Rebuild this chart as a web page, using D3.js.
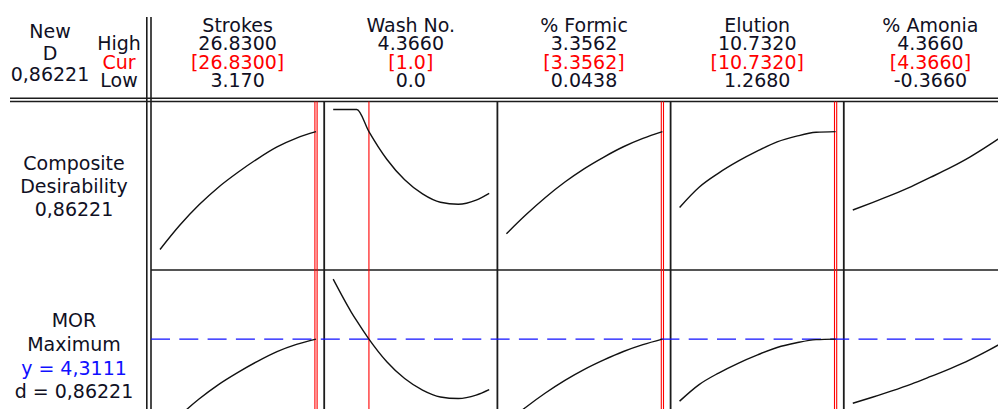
<!DOCTYPE html>
<html>
<head>
<meta charset="utf-8">
<script src="https://cdn.jsdelivr.net/npm/d3@7"></script>
<style>
  html, body { margin: 0; padding: 0; background: #fff; overflow: hidden; }
  svg { display: block; }
  text { font-family: "DejaVu Sans", Verdana, sans-serif; font-size: 19px; fill: #101024; }
</style>
</head>
<body>
<svg id="chart" width="998" height="409"></svg>
<script>
// ---- Factors and their settings ----
const factors    = ["Strokes", "Wash No.", "% Formic", "Elution", "% Amonia"];
const highLabels = ["26.8300", "4.3660", "3.3562", "10.7320", "4.3660"];
const curLabels  = ["[26.8300]", "[1.0]", "[3.3562]", "[10.7320]", "[4.3660]"];
const lowLabels  = ["3.170", "0.0", "0.0438", "1.2680", "-0.3660"];
const lows     = [3.17, 0, 0.0438, 1.268, -0.366];
const highs    = [26.83, 4.366, 3.3562, 10.732, 4.366];
const currents = [26.83, 1.0, 3.3562, 10.732, 4.366];

// ---- Predicted MOR along each factor (others held at current settings) ----
const strokesX   = [3.17, 6.13, 9.09, 12.04, 15.00, 17.96, 20.92, 23.87, 26.83];
const strokesMor = [0.64, 1.385, 2.03, 2.58, 3.045, 3.465, 3.835, 4.11, 4.3111];
const washX      = [0, 0.5, 0.66, 1.0, 1.5, 2.0, 2.5, 3.0, 3.5, 4.0, 4.366];
const washMor    = [6.59, 5.35, 5.0, 4.3111, 3.45, 2.81, 2.37, 2.11, 2.05, 2.18, 2.39];
const formicX    = [0.0438, 0.4579, 0.8719, 1.2860, 1.7000, 2.1141, 2.5281, 2.9422, 3.3562];
const formicMor  = [1.13, 1.72, 2.26, 2.74, 3.16, 3.52, 3.84, 4.10, 4.3111];
const elutionX   = [1.268, 2.451, 3.634, 4.817, 6.000, 7.183, 8.366, 9.549, 10.732];
const elutionMor = [1.95, 2.58, 3.02, 3.39, 3.71, 3.99, 4.17, 4.29, 4.3111];
const amoniaX    = [-0.366, 0.226, 0.817, 1.409, 2.000, 2.592, 3.183, 3.775, 4.366];
const amoniaMor  = [1.87, 2.10, 2.34, 2.60, 2.89, 3.19, 3.52, 3.90, 4.3111];

// ---- Response goal and optimum ----
const responseName = "MOR";
const goalName = "Maximum";
const morLower = 0, morTarget = 5;
const optimumY = 4.3111;
const compositeD = 0.86221;

const curveX   = [strokesX, washX, formicX, elutionX, amoniaX];
const curveMor = [strokesMor, washMor, formicMor, elutionMor, amoniaMor];

// ---- Layout ----
const W = 998, H = 409;
const colLeft = 151, panelW = 173.2, padL = 9, padR = 8.2;
const row1Top = 101.5, rowSplit = 270, row2Bottom = 439;
const ink = "#1c1c1c", red = "#ff0000", blue = "#1010ff";

const svg = d3.select("#chart");
const comma = v => String(v).replace(".", ",");
const desirability = m => Math.max(0, Math.min(1, (m - morLower) / (morTarget - morLower)));

// y scales: composite desirability (top row) and MOR (bottom row)
const yD = d3.scaleLinear().domain([0, 1.05]).range([rowSplit, row1Top]);
const yM = d3.scaleLinear().domain([0.51, 6.94]).range([row2Bottom, rowSplit]);

const panelLeft = i => colLeft + i * panelW;
const xScales = factors.map((f, i) =>
  d3.scaleLinear().domain([lows[i], highs[i]])
    .range([panelLeft(i) + padL, panelLeft(i + 1) - padR]));

// ---- Frame lines ----
const g = svg.append("g").attr("fill", "none");
const hline = (y, x1, x2, w = 1.6) => g.append("line").attr("x1", x1).attr("x2", x2)
  .attr("y1", y).attr("y2", y).attr("stroke", ink).attr("stroke-width", w);
const vline = (x, y1, y2, w = 1.6) => g.append("line").attr("x1", x).attr("x2", x)
  .attr("y1", y1).attr("y2", y2).attr("stroke", ink).attr("stroke-width", w);

hline(98.3, 10, W);
hline(row1Top, 10, W);
vline(146.8, 17, H);
vline(colLeft, 17, H);
factors.forEach((f, i) => vline(panelLeft(i + 1), row1Top, H, 1.8));
hline(rowSplit, colLeft, W, 1.6);

// ---- Current-setting lines ----
factors.forEach((f, i) => {
  const x = xScales[i](currents[i]);
  const atBound = currents[i] === highs[i] || currents[i] === lows[i];
  const xs = atBound ? [x - 1.1, x + 1.1] : [x];
  xs.forEach(xx => g.append("line").attr("x1", xx).attr("x2", xx)
    .attr("y1", row1Top).attr("y2", H).attr("stroke", red).attr("stroke-width", 1.1));
});

// ---- Optimum response reference line ----
g.append("line").attr("x1", colLeft).attr("x2", W)
  .attr("y1", yM(optimumY)).attr("y2", yM(optimumY))
  .attr("stroke", blue).attr("stroke-width", 1.4)
  .attr("stroke-dasharray", "19,9.3");

// ---- Curves ----
factors.forEach((f, i) => {
  const pts = curveX[i].map((x, k) => ({ x, m: curveMor[i][k] }));
  const dLine = d3.line().x(p => xScales[i](p.x)).y(p => yD(desirability(p.m)))
    .curve(d3.curveMonotoneX);
  const mLine = d3.line().x(p => xScales[i](p.x)).y(p => yM(p.m))
    .curve(d3.curveMonotoneX);
  g.append("path").attr("d", dLine(pts)).attr("stroke", "#111").attr("stroke-width", 1.4);
  g.append("path").attr("d", mLine(pts)).attr("stroke", "#111").attr("stroke-width", 1.4);
});

// ---- Header text ----
const t = svg.append("g").attr("text-anchor", "middle");
const label = (x, y, s, color) => t.append("text").attr("x", x).attr("y", y)
  .style("fill", color || null).text(s);

factors.forEach((f, i) => {
  const cx = (panelLeft(i) + panelLeft(i + 1)) / 2;
  label(cx, 32, f);
  label(cx, 50, highLabels[i]);
  label(cx, 68.5, curLabels[i], red);
  label(cx, 87.3, lowLabels[i]);
});

label(50, 38, "New");
label(50, 59.5, "D");
label(50, 80.5, comma(compositeD));
label(119, 50, "High");
label(119, 68.5, "Cur", red);
label(119, 87.3, "Low");

// ---- Row labels ----
label(74, 169.5, "Composite");
label(74, 193, "Desirability");
label(74, 216, comma(compositeD));

label(74, 327, responseName);
label(74, 351, goalName);
label(74, 374.5, "y = " + comma(optimumY), blue);
label(74, 398, "d = " + comma(compositeD));
</script>
</body>
</html>
